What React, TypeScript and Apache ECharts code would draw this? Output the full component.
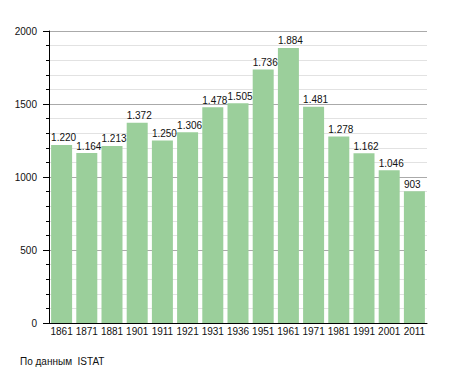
import React, { useEffect, useRef } from "react";
import * as echarts from "echarts";

const categories = ["1861", "1871", "1881", "1901", "1911", "1921", "1931", "1936", "1951", "1961", "1971", "1981", "1991", "2001", "2011"];
const population = [1220, 1164, 1213, 1372, 1250, 1306, 1478, 1505, 1736, 1884, 1481, 1278, 1162, 1046, 903];
const yTicks = [0, 500, 1000, 1500, 2000];
const sourceText = "По данным  ISTAT";

const fmt = (v: number) => String(v).replace(/\B(?=(\d{3})+(?!\d))/g, ".");

export default function App() {
  const ref = useRef<HTMLDivElement>(null);
  useEffect(() => {
    if (!ref.current) return;
    const chart = echarts.init(ref.current, null, { renderer: "svg" });
    const font = "Liberation Sans, Arial, sans-serif";
    chart.setOption({
      animation: false,
      textStyle: { fontFamily: font },
      grid: { left: 49, right: 28, top: 31, bottom: 50 },
      xAxis: {
        type: "category",
        data: categories,
        axisLine: { lineStyle: { color: "#000", width: 1 } },
        axisTick: { show: false },
        axisLabel: { color: "#111", fontSize: 10, fontFamily: font, margin: 3, interval: 0 },
      },
      yAxis: {
        type: "value",
        min: yTicks[0],
        max: yTicks[yTicks.length - 1],
        interval: 500,
        axisLine: { show: true, lineStyle: { color: "#000", width: 1 } },
        axisTick: { show: true, length: 6, lineStyle: { color: "#000" } },
        minorTick: { show: true, splitNumber: 5, length: 3, lineStyle: { color: "#000" } },
        splitLine: { show: true, lineStyle: { color: "#aaaaaa", width: 1 } },
        minorSplitLine: { show: true, lineStyle: { color: "#e2e2e2", width: 1 } },
        axisLabel: { color: "#111", fontSize: 10, fontFamily: font, margin: 12, formatter: (v: number) => String(v) },
      },
      series: [
        {
          type: "bar",
          data: population,
          barWidth: 21,
          itemStyle: { color: "#9bcf9b" },
          label: {
            show: true,
            position: [0, -2],
            align: "left",
            verticalAlign: "bottom",
            color: "#111",
            fontSize: 10,
            fontFamily: font,
            formatter: (p: any) => fmt(p.value),
          },
        },
      ],
      graphic: [
        {
          type: "text",
          left: 20,
          top: 356,
          style: { text: sourceText, fill: "#111", fontSize: 10, fontFamily: font },
        },
      ],
    });
    return () => chart.dispose();
  }, []);
  return <div ref={ref} style={{ width: 455, height: 373, position: "absolute", left: 0, top: 0 }} />;
}
